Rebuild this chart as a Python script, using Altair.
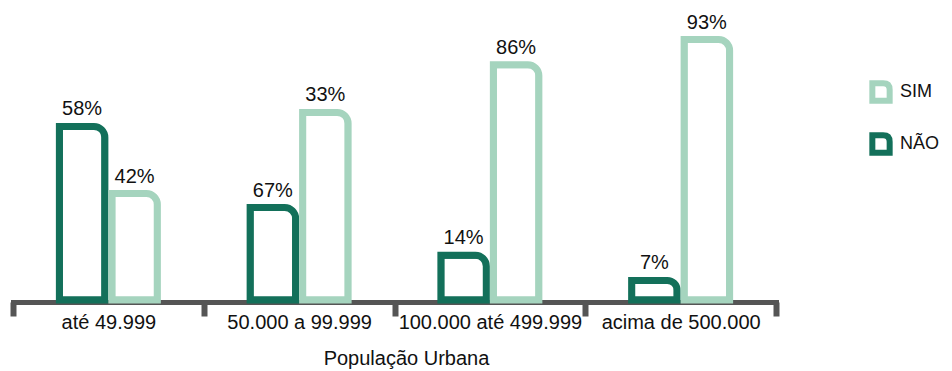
import altair as alt
import pandas as pd

grupos = ["até 49.999", "50.000 a 99.999", "100.000 até 499.999", "acima de 500.000"]
series = ["NÃO", "SIM"]
nao_valores = [62, 33, 16, 7]
sim_valores = [38, 67, 84, 93]
nao_rotulos = ["58%", "67%", "14%", "7%"]
sim_rotulos = ["42%", "33%", "86%", "93%"]

cor_nao = "#13705A"
cor_sim = "#A5D4BE"
fonte = "Liberation Sans"

linhas = []
for g, v, r in zip(grupos, nao_valores, nao_rotulos):
    linhas.append({"grupo": g, "serie": "NÃO", "valor": v, "rotulo": r})
for g, v, r in zip(grupos, sim_valores, sim_rotulos):
    linhas.append({"grupo": g, "serie": "SIM", "valor": v, "rotulo": r})
df = pd.DataFrame(linhas)

forma = "M-1,1L-1,-1L0.25,-1Q1,-1,1,-0.25L1,1Z"

base = alt.Chart(df).encode(
    x=alt.X(
        "grupo:N",
        sort=grupos,
        title="População Urbana",
        scale=alt.Scale(paddingInner=0, paddingOuter=0),
        axis=alt.Axis(
            labelAngle=0,
            domainColor="#555555",
            domainWidth=5,
            domainCap="square",
            tickColor="#555555",
            tickWidth=6,
            tickSize=14,
            tickBand="extent",
            offset=2,
            labelFont=fonte,
            labelFontSize=20,
            labelColor="#111111",
            labelBaseline="alphabetic",
            labelPadding=12,
            labelLimit=400,
            labelOverlap=False,
            titleFont=fonte,
            titleFontSize=20,
            titleFontWeight="normal",
            titleColor="#111111",
            titleBaseline="alphabetic",
            titleX=393,
            titleY=62,
        ),
    ),
    xOffset=alt.XOffset(
        "serie:N", sort=series, scale=alt.Scale(paddingInner=0, paddingOuter=0.817)
    ),
    y=alt.Y("valor:Q", scale=alt.Scale(domain=[0, 100]), axis=None),
)

barras = base.mark_bar(
    fill="white", strokeWidth=7, cornerRadiusTopRight=11, width=45.5, strokeJoin="miter"
).encode(
    stroke=alt.Stroke(
        "serie:N",
        scale=alt.Scale(domain=["SIM", "NÃO"], range=[cor_sim, cor_nao]),
        legend=alt.Legend(
            title=None,
            orient="none",
            legendX=856,
            legendY=60,
            symbolType=forma,
            symbolSize=300,
            symbolStrokeWidth=6,
            symbolFillColor="white",
            labelFont=fonte,
            labelFontSize=18,
            labelColor="#111111",
            labelOffset=7,
            rowPadding=10,
            padding=0,
        ),
    )
)

textos = base.mark_text(
    dy=-11, baseline="alphabetic", font=fonte, fontSize=20, color="#111111"
).encode(text="rotulo:N")

chart = (
    alt.layer(barras, textos)
    .properties(
        width=763,
        height=280,
        background="white",
        autosize=alt.AutoSizeParams(type="none"),
        padding={"left": 5, "top": 12, "right": 168, "bottom": 70},
    )
    .configure_view(strokeWidth=0, stroke="transparent")
)

chart.save("out.html", embed_options={"renderer": "svg", "actions": False})
